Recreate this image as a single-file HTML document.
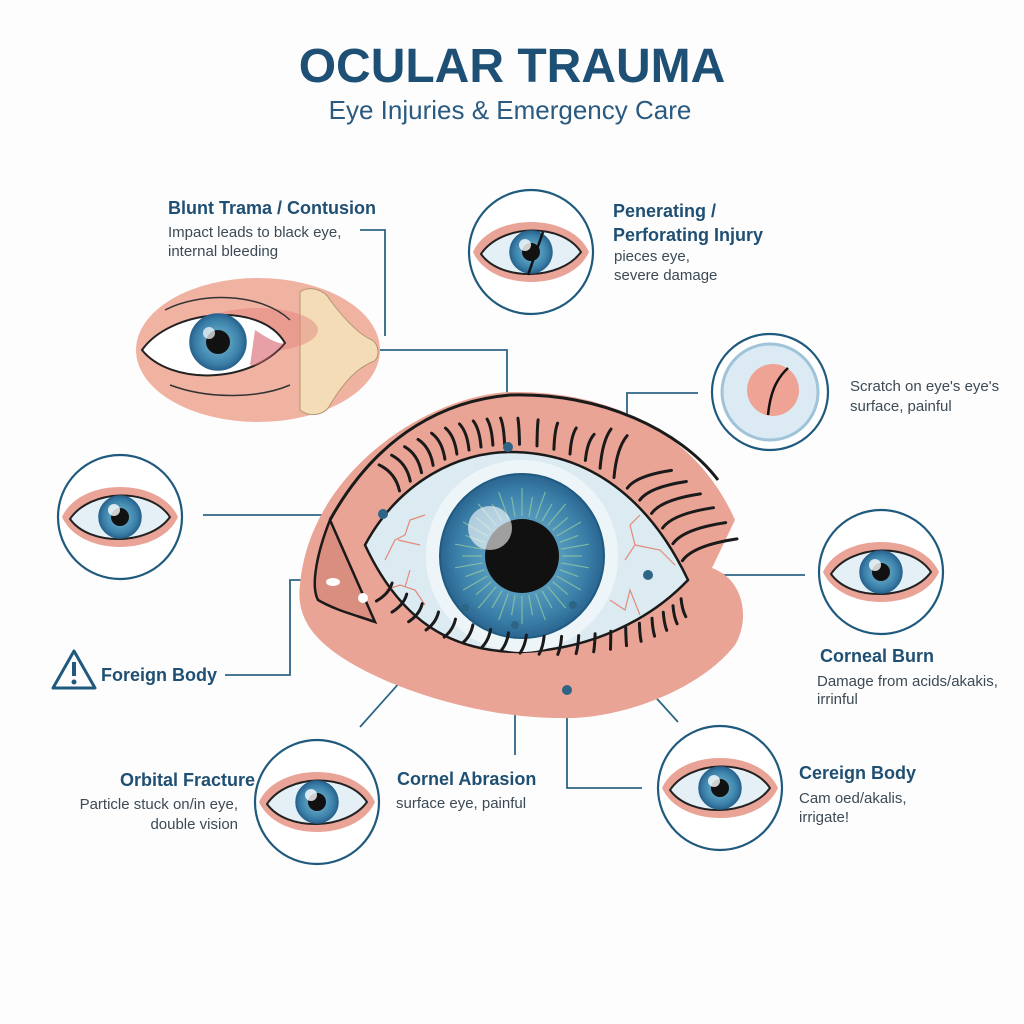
<!DOCTYPE html>
<html><head><meta charset="utf-8"><style>
html,body{margin:0;padding:0;background:#fdfdfd;}
svg{display:block;}
.t{font-family:"Liberation Sans",sans-serif;}
.h{font-weight:bold;fill:#1f4f72;font-size:18px;}
.d{fill:#3c4a55;font-size:15px;}
</style></head><body>
<svg id="s" width="1024" height="1024" viewBox="0 0 1024 1024" xmlns="http://www.w3.org/2000/svg">
<defs>
<radialGradient id="ir" cx="50%" cy="50%" r="50%">
<stop offset="0.4" stop-color="#5a9fc0"/><stop offset="0.8" stop-color="#3a7fa8"/><stop offset="1" stop-color="#2a6590"/></radialGradient>
<g id="eye">
<path d="M-58,0 C-40,-40 40,-40 58,0 C40,40 -40,40 -58,0Z" fill="#eaa497"/>
<path d="M-50,2 C-30,-28 30,-30 50,0 C30,28 -30,30 -50,2Z" fill="#e4f0f6" stroke="#222" stroke-width="2"/>
<circle r="21" fill="url(#ir)" stroke="#2a6590" stroke-width="1.5"/>
<circle r="9" fill="#111"/>
<circle cx="-6" cy="-7" r="6" fill="#fff" opacity="0.8"/>
</g>
</defs>
<text class="t" x="512" y="82" text-anchor="middle" font-size="48" font-weight="bold" fill="#1e4f75">OCULAR TRAUMA</text>
<text class="t" x="510" y="119" text-anchor="middle" font-size="26" fill="#2a5a80">Eye Injuries &amp; Emergency Care</text>

<g stroke="#2e6585" stroke-width="1.8" fill="none">
<path d="M360,230 H385 V336"/>
<path d="M376,350 H507 V450"/>
<path d="M203,515 H383"/>
<path d="M225,675 H290 V580 H318"/>
<path d="M698,393 H627 V512"/>
<path d="M648,575 H805"/>
<path d="M360,727 L466,608"/>
<path d="M515,625 V755"/>
<path d="M567,690 V788 H642"/>
<path d="M573,606 L678,722"/>
</g>

<path d="M300,585 C310,470 430,395 510,392 C620,390 700,440 735,520 L712,568 C745,580 750,620 735,645 C700,690 620,720 560,718 C470,718 360,680 320,640 C300,620 298,600 300,585Z" fill="#e9a495"/>
<path d="M330,520 C380,430 450,400 510,395 C600,392 680,430 718,480" fill="none" stroke="#1a1a1a" stroke-width="3"/>
<path d="M330,520 C318,550 310,585 318,600 C335,610 355,615 375,622 Z" fill="#d98e80" stroke="#1a1a1a" stroke-width="2.5"/>
<ellipse cx="333" cy="582" rx="7" ry="4" fill="#fff"/><circle cx="363" cy="598" r="5" fill="#fff"/>
<path d="M365,545 C400,480 460,452 510,452 C590,452 650,500 688,580 C650,620 590,650 520,652 C450,652 400,620 365,545Z" fill="#dceaf2" stroke="#1a1a1a" stroke-width="2.5"/>
<g stroke="#e58a7a" stroke-width="1.2" fill="none">
<path d="M385,560 L395,540 L405,535 L410,520 L425,515"/><path d="M398,540 L420,545"/>
<path d="M385,590 L400,585 L415,590 L425,605"/><path d="M405,587 L410,570"/>
<path d="M625,560 L635,545 L630,525 L640,515"/><path d="M635,545 L660,550 L675,565"/>
<path d="M610,600 L625,610 L630,590 L640,615"/>
</g>
<circle cx="522" cy="556" r="96" fill="#eef5f9"/>
<circle cx="522" cy="556" r="82" fill="url(#ir)" stroke="#1f5a80" stroke-width="2"/>
<g id="rays" stroke="#9ccf9c" stroke-width="1.2" opacity="0.7"></g>
<circle cx="522" cy="556" r="37" fill="#111"/>
<circle cx="490" cy="528" r="22" fill="#fff" opacity="0.6"/>
<g id="lash" stroke="#1a1a1a" stroke-width="3" fill="none" stroke-linecap="round"></g>
<g fill="#2e6585">
<circle cx="508" cy="447" r="5"/><circle cx="383" cy="514" r="5"/><circle cx="648" cy="575" r="5"/>
<circle cx="465" cy="608" r="4"/><circle cx="515" cy="625" r="4"/><circle cx="573" cy="605" r="4"/><circle cx="567" cy="690" r="5"/>
</g>

<ellipse cx="258" cy="350" rx="122" ry="72" fill="#f0b3a2"/>
<path d="M300,292 C310,285 325,290 330,300 C345,320 360,335 372,340 C380,345 380,360 372,362 C358,368 345,380 330,405 C325,415 310,418 300,410 Z" fill="#f3dcb6" stroke="#b59770" stroke-width="1"/>
<ellipse cx="258" cy="330" rx="60" ry="22" fill="#e27f7a" opacity="0.45"/>
<path d="M142,350 C170,310 260,300 285,343 C250,385 170,385 142,350Z" fill="#fff" stroke="#222" stroke-width="2"/>
<path d="M255,330 C270,340 280,345 285,343 C270,360 255,368 250,365Z" fill="#d6616a" opacity="0.6"/>
<circle cx="218" cy="342" r="28" fill="url(#ir)" stroke="#2a6590" stroke-width="1.5"/>
<circle cx="218" cy="342" r="12" fill="#111"/><circle cx="209" cy="333" r="6" fill="#fff" opacity="0.7"/>
<path d="M165,310 C200,292 260,292 290,320" stroke="#333" fill="none" stroke-width="1.5"/>
<path d="M170,385 C210,400 260,398 290,385" stroke="#333" fill="none" stroke-width="1.5"/>

<g fill="#fff" stroke="#1f5a7e" stroke-width="2.2">
<circle cx="531" cy="252" r="62"/><circle cx="770" cy="392" r="58"/><circle cx="120" cy="517" r="62"/>
<circle cx="881" cy="572" r="62"/><circle cx="317" cy="802" r="62"/><circle cx="720" cy="788" r="62"/>
</g>
<use href="#eye" x="531" y="252"/>
<path d="M543,232 L528,275" stroke="#111" stroke-width="2.5"/>
<use href="#eye" x="120" y="517"/>
<use href="#eye" x="881" y="572"/>
<use href="#eye" x="317" y="802"/>
<use href="#eye" x="720" y="788"/>
<circle cx="770" cy="392" r="48" fill="#dcebf3" stroke="#9fc3d8" stroke-width="3"/>
<circle cx="773" cy="390" r="26" fill="#eea394"/>
<path d="M788,368 C775,380 770,395 768,415" stroke="#111" stroke-width="2.5" fill="none"/>

<path d="M74,651 L95,688 L53,688 Z" fill="none" stroke="#1f5a7e" stroke-width="3" stroke-linejoin="round"/>
<rect x="72" y="662" width="4" height="14" fill="#1f5a7e"/><circle cx="74" cy="682" r="2.5" fill="#1f5a7e"/>

<g class="t">
<text class="h" x="168" y="214">Blunt Trama / Contusion</text>
<text class="d" x="168" y="237">Impact leads to black eye,</text>
<text class="d" x="168" y="256">internal bleeding</text>
<text class="h" x="613" y="217">Penerating /</text>
<text class="h" x="613" y="241">Perforating Injury</text>
<text class="d" x="614" y="261">pieces eye,</text>
<text class="d" x="614" y="280">severe damage</text>
<text class="d" x="850" y="391">Scratch on eye's eye's</text>
<text class="d" x="850" y="411">surface, painful</text>
<text class="h" x="101" y="681">Foreign Body</text>
<text class="h" x="820" y="662">Corneal Burn</text>
<text class="d" x="817" y="686">Damage from acids/akakis,</text>
<text class="d" x="817" y="704">irrinful</text>
<text class="h" x="255" y="786" text-anchor="end">Orbital Fracture</text>
<text class="d" x="238" y="809" text-anchor="end">Particle stuck on/in eye,</text>
<text class="d" x="238" y="829" text-anchor="end">double vision</text>
<text class="h" x="397" y="785">Cornel Abrasion</text>
<text class="d" x="396" y="808">surface eye, painful</text>
<text class="h" x="799" y="779">Cereign Body</text>
<text class="d" x="799" y="803">Cam oed/akalis,</text>
<text class="d" x="799" y="822">irrigate!</text>
</g>
</svg>
<script>
var NS="http://www.w3.org/2000/svg";
function bez(p0,p1,p2,p3,t){var u=1-t;return u*u*u*p0+3*u*u*t*p1+3*u*t*t*p2+t*t*t*p3;}
var L=document.getElementById("lash"),d="";
for(var i=0;i<=22;i++){var t=0.14+i*0.038;var x,y;
 if(t<0.5){x=bez(365,400,460,510,t*2);y=bez(545,480,452,452,t*2);}else{x=bez(510,590,650,688,(t-0.5)*2);y=bez(452,452,500,580,(t-0.5)*2);}
 var k=(x-530)/160; var len=26+(k>0.4?k*30:0);
 var dx=k*25, dy=-len;
 if(k>0.6){dx=len;dy=-len*0.4;}
 d+="M"+x.toFixed(1)+","+(y-8).toFixed(1)+" q"+(dx*0.2).toFixed(1)+","+(dy*0.7).toFixed(1)+" "+dx.toFixed(1)+","+dy.toFixed(1)+" ";}
for(var i=0;i<=20;i++){var t=0.05+i*0.045;
 var x=bez(688,650,450,365,t), y=bez(580,640,655,545,t);
 if(x<380) continue;
 var k=(x-530)/170;
 var dx=k*12-6, dy=18;
 d+="M"+x.toFixed(1)+","+(y+10).toFixed(1)+" q"+(dx*0.2).toFixed(1)+","+(dy*0.6).toFixed(1)+" "+dx.toFixed(1)+","+dy.toFixed(1)+" ";}
var p=document.createElementNS(NS,"path");p.setAttribute("d",d);L.appendChild(p);
var R=document.getElementById("rays");
for(var a=0;a<360;a+=10){var r=a*Math.PI/180;var ln=document.createElementNS(NS,"line");
ln.setAttribute("x1",522+40*Math.cos(r));ln.setAttribute("y1",556+40*Math.sin(r));
ln.setAttribute("x2",522+(60+(a%20)*0.8)*Math.cos(r));ln.setAttribute("y2",556+(60+(a%20)*0.8)*Math.sin(r));R.appendChild(ln);}
</script>
</body></html>
